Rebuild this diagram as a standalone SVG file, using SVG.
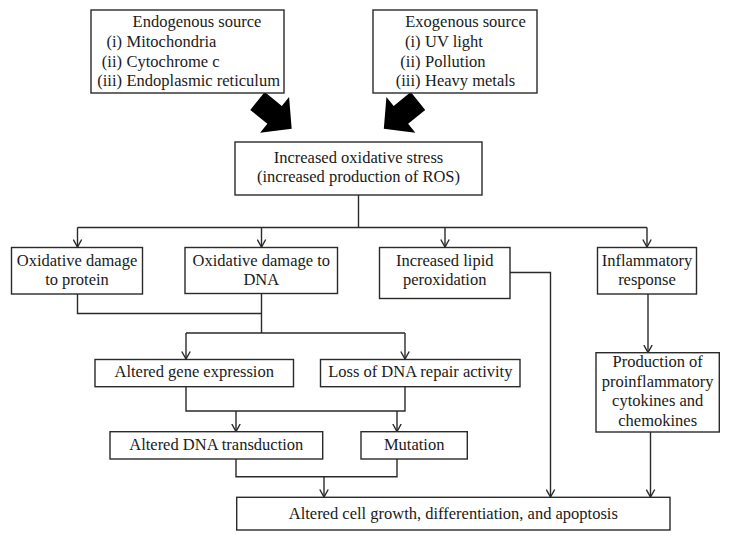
<svg xmlns="http://www.w3.org/2000/svg" width="730" height="541" viewBox="0 0 730 541">
<style>
.box{fill:#fff;stroke:#2a2a2a;stroke-width:1.4}
.t{font-family:"Liberation Serif","Times New Roman",serif;font-size:16.5px;fill:#1a1a1a;text-anchor:middle}
.e{text-anchor:end}
.s{text-anchor:start}
.c{fill:none;stroke:#2a2a2a;stroke-width:1.4}
.big{fill:#000}
</style>
<defs>
<marker id="ah" viewBox="0 0 10 10" refX="8" refY="5" markerWidth="10" markerHeight="10" markerUnits="userSpaceOnUse" orient="auto">
<path d="M0.5,0.8 L8,5 L0.5,9.2" fill="none" stroke="#2a2a2a" stroke-width="1.4"/>
</marker>
</defs>
<rect width="730" height="541" fill="#fff"/>

<g id="connectors">
<polygon class="big" transform="translate(257.5,101) rotate(39)" points="0,-11.5 22,-11.5 22,-23 44,0 22,23 22,11.5 0,11.5"/>
<polygon class="big" transform="translate(418,101) scale(-1,1) rotate(39)" points="0,-11.5 22,-11.5 22,-23 44,0 22,23 22,11.5 0,11.5"/>
<path class="c" d="M358.5,195 V227.5 M77.5,227.5 H647"/>
<path class="c" marker-end="url(#ah)" d="M77.5,227.5 V247"/>
<path class="c" marker-end="url(#ah)" d="M261.5,227.5 V247"/>
<path class="c" marker-end="url(#ah)" d="M445,227.5 V247"/>
<path class="c" marker-end="url(#ah)" d="M647,227.5 V247"/>
<path class="c" d="M77.5,294 V313.5 H261.5 M261.5,293.5 V333 M186,333 H405"/>
<path class="c" marker-end="url(#ah)" d="M186,333 V359"/>
<path class="c" marker-end="url(#ah)" d="M405,333 V359"/>
<path class="c" d="M186,387 V411 H405 V387"/>
<path class="c" marker-end="url(#ah)" d="M236,411 V431.5"/>
<path class="c" marker-end="url(#ah)" d="M397,411 V431.5"/>
<path class="c" d="M236,459 V476.7 H397 V459"/>
<path class="c" marker-end="url(#ah)" d="M324,476.7 V497"/>
<path class="c" marker-end="url(#ah)" d="M510,272.5 H550.5 V497"/>
<path class="c" marker-end="url(#ah)" d="M648,294 V352.5"/>
<path class="c" marker-end="url(#ah)" d="M650.5,432 V497"/>
</g>

<g id="endogenous">
<rect class="box" x="91" y="10" width="193" height="83"/>
<text class="t" x="197" y="27">Endogenous source</text>
<text class="t e" x="122" y="47">(i)</text><text class="t s" x="126.5" y="47">Mitochondria</text>
<text class="t e" x="122" y="66.5">(ii)</text><text class="t s" x="126.5" y="66.5">Cytochrome c</text>
<text class="t e" x="122" y="86">(iii)</text><text class="t s" x="126.5" y="86">Endoplasmic reticulum</text>
</g>

<g id="exogenous">
<rect class="box" x="373" y="10" width="164" height="83"/>
<text class="t" x="465.5" y="27">Exogenous source</text>
<text class="t e" x="420.5" y="47">(i)</text><text class="t s" x="425" y="47">UV light</text>
<text class="t e" x="420.5" y="66.5">(ii)</text><text class="t s" x="425" y="66.5">Pollution</text>
<text class="t e" x="420.5" y="86">(iii)</text><text class="t s" x="425" y="86">Heavy metals</text>
</g>

<g id="stress">
<rect class="box" x="235" y="142" width="247" height="53"/>
<text class="t" x="358.5" y="162.5">Increased oxidative stress</text>
<text class="t" x="358.5" y="182">(increased production of ROS)</text>
</g>

<g id="protein">
<rect class="box" x="11.5" y="247.5" width="131" height="46.5"/>
<text class="t" x="77" y="265.5">Oxidative damage</text>
<text class="t" x="77" y="284.5">to protein</text>
</g>

<g id="dna">
<rect class="box" x="185" y="247.5" width="152.5" height="46"/>
<text class="t" x="261.3" y="265.5">Oxidative damage to</text>
<text class="t" x="261.3" y="284.5">DNA</text>
</g>

<g id="lipid">
<rect class="box" x="379.5" y="247.5" width="130.5" height="51"/>
<text class="t" x="444.7" y="266">Increased lipid</text>
<text class="t" x="444.7" y="285">peroxidation</text>
</g>

<g id="inflammatory">
<rect class="box" x="597.5" y="247.5" width="99" height="46.5"/>
<text class="t" x="647" y="266">Inflammatory</text>
<text class="t" x="647" y="284.5">response</text>
</g>

<g id="gene">
<rect class="box" x="95" y="359.5" width="198.5" height="27.2"/>
<text class="t" x="194.2" y="377">Altered gene expression</text>
</g>

<g id="repair">
<rect class="box" x="320.5" y="359.5" width="199.5" height="27.2"/>
<text class="t" x="420.3" y="377">Loss of DNA repair activity</text>
</g>

<g id="production">
<rect class="box" x="596" y="352.7" width="123.3" height="79.3"/>
<text class="t" x="657.7" y="367">Production of</text>
<text class="t" x="657.7" y="386.5">proinflammatory</text>
<text class="t" x="657.7" y="406">cytokines and</text>
<text class="t" x="657.7" y="425.5">chemokines</text>
</g>

<g id="transduction">
<rect class="box" x="110" y="431.7" width="212.7" height="27.3"/>
<text class="t" x="216.3" y="449.5">Altered DNA transduction</text>
</g>

<g id="mutation">
<rect class="box" x="361" y="431.7" width="106.3" height="27.3"/>
<text class="t" x="414.2" y="449.5">Mutation</text>
</g>

<g id="outcome">
<rect class="box" x="236.7" y="497.3" width="433.3" height="32.7"/>
<text class="t" x="453.3" y="518.5">Altered cell growth, differentiation, and apoptosis</text>
</g>
</svg>
